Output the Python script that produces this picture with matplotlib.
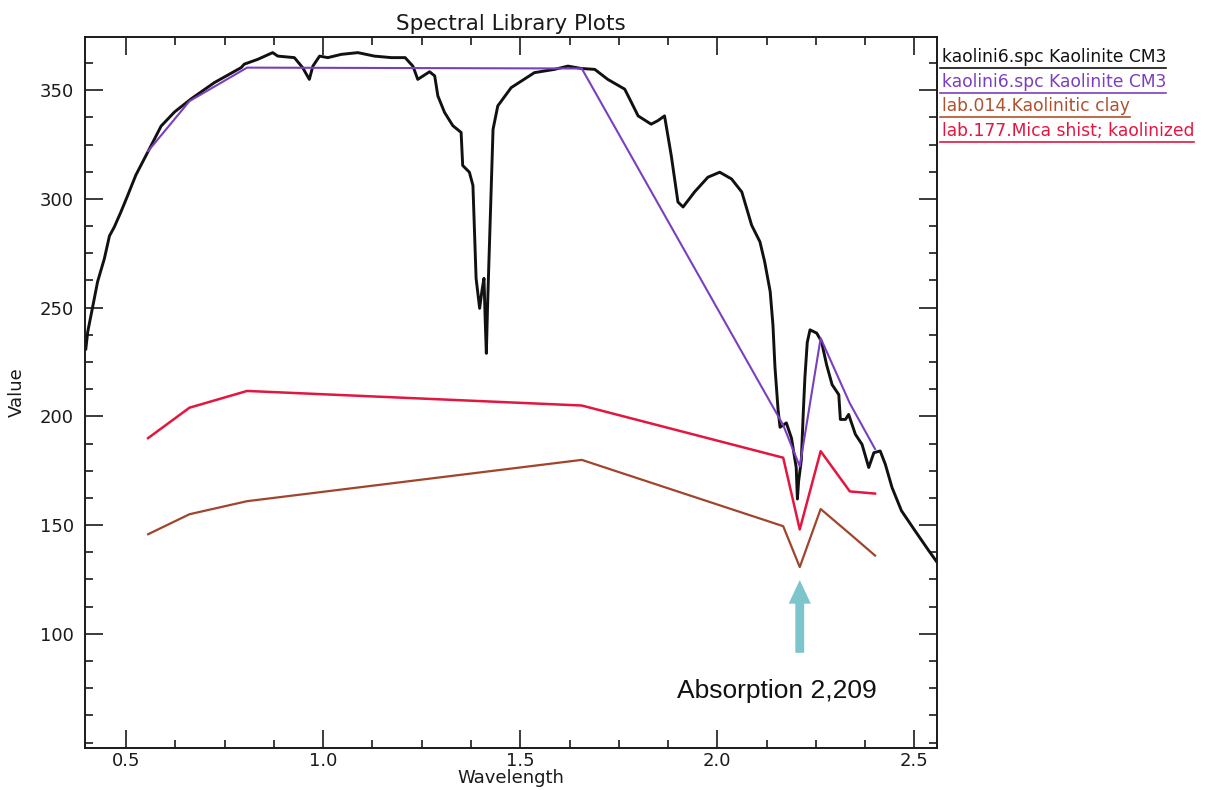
import matplotlib
matplotlib.use('Agg')
import matplotlib.pyplot as plt
from matplotlib.ticker import MultipleLocator
from matplotlib.lines import Line2D

# kaolinite lab spectrum
wl_full = [0.398, 0.403, 0.415, 0.428, 0.445, 0.458, 0.470, 0.487, 0.504, 0.525,
           0.555, 0.589, 0.623, 0.665, 0.724, 0.792, 0.800, 0.834, 0.872, 0.885,
           0.927, 0.948, 0.965, 0.974, 0.991, 1.012, 1.046, 1.088, 1.130, 1.173,
           1.208, 1.228, 1.240, 1.270, 1.283, 1.291, 1.308, 1.329, 1.350, 1.354,
           1.371, 1.380, 1.388, 1.397, 1.403, 1.408, 1.411, 1.414, 1.417, 1.420,
           1.431, 1.443, 1.477, 1.536, 1.587, 1.621, 1.655, 1.689, 1.722, 1.765,
           1.782, 1.799, 1.832, 1.849, 1.866, 1.883, 1.900, 1.913, 1.942, 1.976,
           2.006, 2.036, 2.062, 2.087, 2.108, 2.120, 2.134, 2.141, 2.146, 2.154,
           2.159, 2.175, 2.188, 2.196, 2.200, 2.203, 2.206, 2.213, 2.218, 2.222,
           2.228, 2.235, 2.252, 2.264, 2.277, 2.291, 2.308, 2.312, 2.325, 2.333,
           2.350, 2.367, 2.384, 2.397, 2.413, 2.426, 2.443, 2.467, 2.501, 2.536,
           2.557]
kaol_full = [231, 239, 250, 262, 272.5, 283, 287, 294, 301.5, 311,
             321.5, 333.5, 340, 346, 353.5, 360.4, 362, 364.2, 367.3, 365.7,
             365, 360.4, 355, 361.1, 365.7, 365, 366.5, 367.3, 365.7, 365,
             365, 361, 355, 358.5, 356.6, 347.4, 339.8, 333.7, 330.6, 315.4,
             312.3, 306.2, 263.5, 249.7, 258, 263.5, 245, 229, 250, 268,
             332, 342.8, 351.2, 358.1, 359.6, 361.1, 360, 359.6, 355, 350.5,
             344.4, 338.2, 334.4, 336, 338.2, 320, 298.6, 296.3, 303.2, 310,
             312.3, 309.2, 303.2, 287.9, 280.3, 271.1, 257.4, 242, 223, 203,
             195, 197, 190, 181, 176.5, 162, 170, 180, 202, 217.7,
             234, 239.8, 238.3, 234.5, 223.8, 214.6, 210, 198.6, 198.6, 200.9,
             191.8, 187.1, 176.5, 183.3, 184.1, 178, 167.3, 156.6, 147.5, 138.3,
             133]

# resampled to the ASTER band centres
bands = [0.556, 0.661, 0.807, 1.656, 2.167, 2.209, 2.262, 2.336, 2.400]
kaol_bands = [322, 345, 360.4, 360, 196, 177, 236, 206, 185]
lab014 = [145.8, 155, 161, 180, 149.5, 130.7, 157.4, 146, 136]
lab177 = [190, 204, 211.7, 205, 181, 148, 184, 165.5, 164.5]

labels = ['kaolini6.spc Kaolinite CM3', 'kaolini6.spc Kaolinite CM3',
          'lab.014.Kaolinitic clay', 'lab.177.Mica shist; kaolinized']
colors = ['#111111', '#7a3fc0', '#b0502e', '#e3163f']

fig = plt.figure(figsize=(12.11, 7.90), dpi=100)
ax = fig.add_axes([0.0702, 0.0532, 0.7035, 0.9])

ax.plot(wl_full, kaol_full, color=colors[0], lw=2.1)
ax.plot(bands, kaol_bands, color=colors[1], lw=1.5)
ax.plot(bands, lab014, color='#a0452c', lw=1.6)
ax.plot(bands, lab177, color=colors[3], lw=1.8)

ax.set_xlim(0.396, 2.557)
ax.set_ylim(47.5, 374.5)
ax.xaxis.set_minor_locator(MultipleLocator(0.125))
ax.yaxis.set_minor_locator(MultipleLocator(12.5))
ax.set_xticks([0.5, 1.0, 1.5, 2.0, 2.5])
ax.set_xticklabels(['0.5', '1.0', '1.5', '2.0', '2.5'])
ax.set_yticks([100, 150, 200, 250, 300, 350])
ax.tick_params(which='both', direction='in', top=True, right=True,
               width=1.2, labelsize=13, colors='#1a1a1a')
ax.tick_params(which='major', length=13)
ax.tick_params(which='minor', length=6)
ax.tick_params(axis='x', pad=3)
ax.tick_params(axis='y', pad=8)
for s in ax.spines.values():
    s.set_linewidth(1.4)
    s.set_color('#1a1a1a')

ax.set_title('Spectral Library Plots', fontsize=15.5, pad=5, color='#1a1a1a')
ax.set_xlabel('Wavelength', fontsize=13, labelpad=-1, color='#1a1a1a')
ax.set_ylabel('Value', fontsize=13, labelpad=10, color='#1a1a1a')

# absorption marker
ax.annotate('', xy=(2.209, 126), xytext=(2.209, 90),
            arrowprops=dict(arrowstyle='simple,head_length=0.85,head_width=0.8,tail_width=0.32',
                            mutation_scale=20, color='#7cc5cd', lw=0))
ax.text(2.150, 73.5, 'Absorption 2,209', fontsize=19, family='Liberation Sans',
        ha='center', va='center', color='#111111')

# legend written as underlined text lines on the right
fig.canvas.draw()
r = fig.canvas.get_renderer()
ys = [57, 82, 106, 131]
for lab, c, yp in zip(labels, colors, ys):
    t = fig.text(942 / 1211, 1 - yp / 790, lab, fontsize=12.3, color=c,
                 ha='left', va='center')
    bb = t.get_window_extent(renderer=r)
    yl = 1 - (yp + 11) / 790
    fig.add_artist(Line2D([940 / 1211, bb.x1 / 1211], [yl, yl], color=c, lw=1.2))

fig.savefig('out.png', dpi=100)
